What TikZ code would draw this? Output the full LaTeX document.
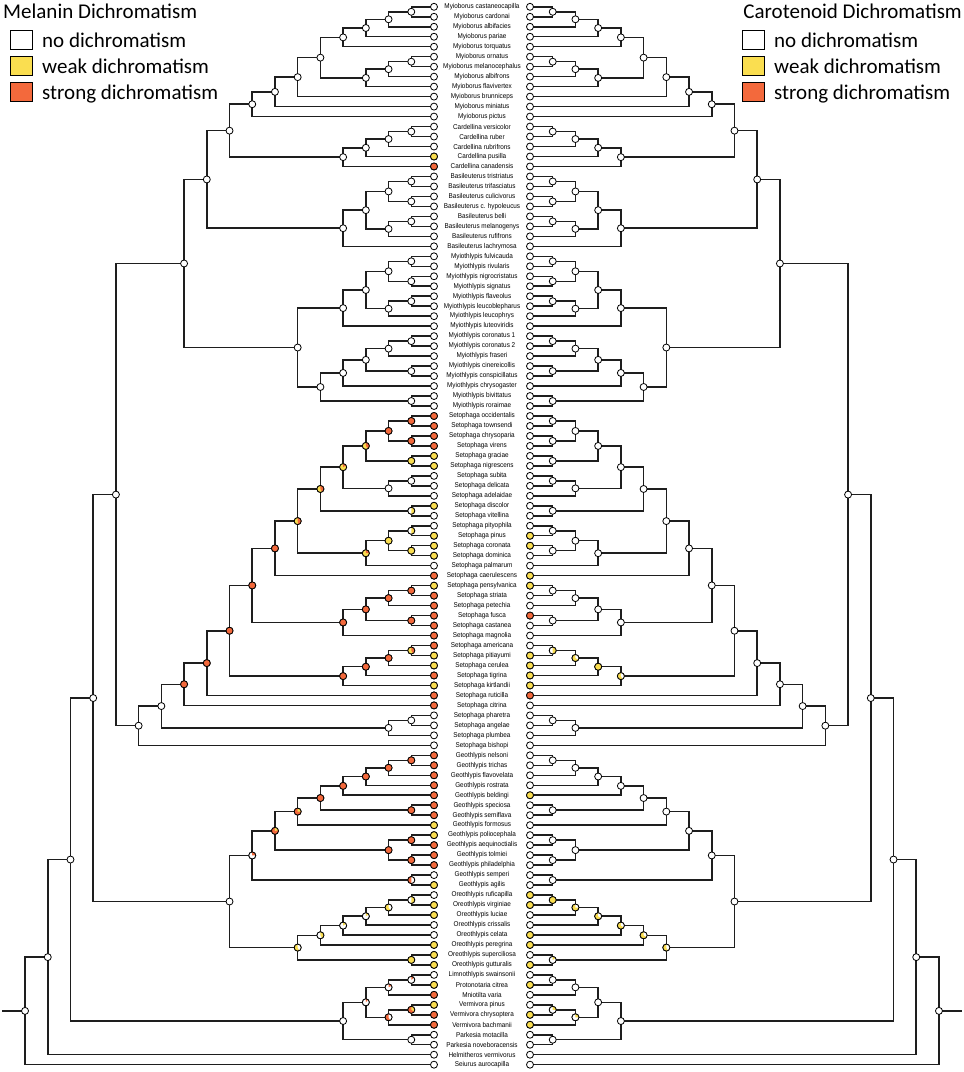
\documentclass[tikz,border=0pt]{standalone}
\usepackage{fontspec}
\setmainfont{Liberation Sans}
\newfontfamily\legfont{Carlito}
\newfontfamily\tipfont[FakeStretch=0.91]{Liberation Sans}
\usetikzlibrary{calc,positioning}

\definecolor{weak}{RGB}{250,222,80}
\definecolor{strong}{RGB}{243,105,60}
\definecolor{branchc}{RGB}{30,30,30}

\pgfdeclarelayer{edges}
\pgfsetlayers{edges,main}

\tikzset{
  branch/.style={draw=branchc, line width=1.5pt},
  bnode/.style={circle, draw=black, line width=0.8pt, fill=white, inner sep=0pt, minimum size=7pt},
  tiplab/.style={font=\tipfont\fontsize{7}{8}\selectfont, inner sep=0pt},
  legbox/.style={draw=black, line width=0.8pt, minimum width=22pt, minimum height=19pt, inner sep=0pt},
  legtext/.style={font=\legfont\fontsize{21}{24}\selectfont, inner sep=0pt, anchor=base west},
}

% clade: name, level, first child, second child
\newcommand{\clade}[4]{%
  \path ($(\pre#3)!0.5!(\pre#4)$) coordinate (\pre#1-m);
  \pgfmathsetmacro\cladex{482+(\side)*(48+#2*22.72)}
  \coordinate (\pre#1) at (\cladex,0 |- \pre#1-m);
  \begin{pgfonlayer}{edges}
    \draw[branch] (\pre#3) -| (\pre#1) |- (\pre#4);
  \end{pgfonlayer}
  \node[bnode] at (\pre#1) {};
}
\newcommand{\paint}[2]{\node[bnode, fill=#2] at (\pre#1) {};}
% pie: node, base colour, wedge colour, wedge degrees
\newcommand{\pienode}[4]{%
  \fill[#2] (\pre#1) circle (3.5pt);
  \fill[#3] (\pre#1) -- ++(90:3.5pt) arc[start angle=90, end angle={90-#4}, radius=3.5pt] -- cycle;
  \draw[line width=0.8pt] (\pre#1) circle (3.5pt);
}

\newcommand{\buildtree}{%
  \foreach \i in {1,...,107} {
    \coordinate (\pre t\i) at ({482+(\side)*48},{6.8+(\i-1)*9.98});
  }
  % Myioborus
  \clade{a1}{1}{t1}{t2}
  \clade{a2}{2}{a1}{t3}
  \clade{a3}{3}{a2}{t4}
  \clade{a4}{4}{a3}{t5}
  \clade{a5}{1}{t6}{t7}
  \clade{a6}{2}{a5}{t8}
  \clade{a7}{3}{a6}{t9}
  \clade{a8}{5}{a4}{a7}
  \clade{a9}{6}{a8}{t10}
  \clade{a10}{7}{a9}{t11}
  \clade{a11}{8}{a10}{t12}
  % Cardellina
  \clade{c1}{1}{t13}{t14}
  \clade{c2}{2}{c1}{t15}
  \clade{c3}{3}{c2}{t16}
  \clade{c4}{4}{c3}{t17}
  \clade{c5}{9}{a11}{c4}
  % Basileuterus
  \clade{b1}{1}{t18}{t19}
  \clade{b2}{1}{t20}{t21}
  \clade{b3}{2}{b1}{b2}
  \clade{b4}{1}{t22}{t23}
  \clade{b5}{2}{b4}{t24}
  \clade{b6}{3}{b3}{b5}
  \clade{b7}{4}{b6}{t25}
  \clade{b8}{10}{c5}{b7}
  % Myiothlypis
  \clade{m1}{1}{t26}{t27}
  \clade{m2}{1}{t28}{t29}
  \clade{m3}{2}{m1}{m2}
  \clade{m4}{1}{t30}{t31}
  \clade{m5}{2}{m4}{t32}
  \clade{m6}{3}{m3}{m5}
  \clade{m7}{4}{m6}{t33}
  \clade{m8}{1}{t34}{t35}
  \clade{m9}{2}{m8}{t36}
  \clade{m10}{1}{t37}{t38}
  \clade{m11}{3}{m9}{m10}
  \clade{m12}{4}{m11}{t39}
  \clade{m13}{1}{t40}{t41}
  \clade{m14}{5}{m12}{m13}
  \clade{m15}{6}{m7}{m14}
  \clade{m16}{11}{b8}{m15}
  % Setophaga
  \clade{s1}{1}{t42}{t43}
  \clade{s2}{1}{t44}{t45}
  \clade{s3}{2}{s1}{s2}
  \clade{s4}{1}{t46}{t47}
  \clade{s5}{3}{s3}{s4}
  \clade{s6}{1}{t48}{t49}
  \clade{s7}{2}{s6}{t50}
  \clade{s8}{4}{s5}{s7}
  \clade{s9}{1}{t51}{t52}
  \clade{s10}{5}{s8}{s9}
  \clade{s11}{1}{t53}{t54}
  \clade{s12}{1}{t55}{t56}
  \clade{s13}{2}{s11}{s12}
  \clade{s14}{3}{s13}{t57}
  \clade{s15}{6}{s10}{s14}
  \clade{s16}{7}{s15}{t58}
  \clade{s17}{1}{t59}{t60}
  \clade{s18}{2}{s17}{t61}
  \clade{s19}{1}{t62}{t63}
  \clade{s20}{3}{s18}{s19}
  \clade{s21}{4}{s20}{t64}
  \clade{s22}{8}{s16}{s21}
  \clade{s23}{1}{t65}{t66}
  \clade{s24}{2}{s23}{t67}
  \clade{s25}{3}{s24}{t68}
  \clade{s26}{4}{s25}{t69}
  \clade{s27}{9}{s22}{s26}
  \clade{s28}{10}{s27}{t70}
  \clade{s29}{11}{s28}{t71}
  \clade{s30}{1}{t72}{t73}
  \clade{s31}{2}{s30}{t74}
  \clade{s32}{12}{s29}{s31}
  \clade{s33}{13}{s32}{t75}
  \clade{r1}{14}{m16}{s33}
  % Geothlypis
  \clade{g1}{1}{t76}{t77}
  \clade{g2}{2}{g1}{t78}
  \clade{g3}{3}{g2}{t79}
  \clade{g4}{4}{g3}{t80}
  \clade{g5}{1}{t81}{t82}
  \clade{g6}{5}{g4}{g5}
  \clade{g7}{6}{g6}{t83}
  \clade{g8}{1}{t84}{t85}
  \clade{g9}{1}{t86}{t87}
  \clade{g10}{2}{g8}{g9}
  \clade{g11}{7}{g7}{g10}
  \clade{g12}{1}{t88}{t89}
  \clade{g13}{8}{g11}{g12}
  % Oreothlypis
  \clade{o1}{1}{t90}{t91}
  \clade{o2}{2}{o1}{t92}
  \clade{o3}{3}{o2}{t93}
  \clade{o4}{4}{o3}{t94}
  \clade{o5}{5}{o4}{t95}
  \clade{o6}{1}{t96}{t97}
  \clade{o7}{6}{o5}{o6}
  \clade{o8}{9}{g13}{o7}
  \clade{r2}{15}{r1}{o8}
  % Vermivora and the rest
  \clade{v1}{1}{t98}{t99}
  \clade{v2}{2}{v1}{t100}
  \clade{v3}{1}{t101}{t102}
  \clade{v4}{2}{v3}{t103}
  \clade{v5}{3}{v2}{v4}
  \clade{v6}{1}{t104}{t105}
  \clade{v7}{4}{v5}{v6}
  \clade{r3}{16}{r2}{v7}
  \clade{r4}{17}{r3}{t106}
  \clade{r5}{18}{r4}{t107}
  % Root
  \coordinate (\pre stem) at ({482+(\side)*480},0 |- \pre r5);
  \begin{pgfonlayer}{edges}
    \draw[branch] (\pre r5) -- (\pre stem);
  \end{pgfonlayer}
  % Tips
  \foreach \i in {1,...,107} {
    \node[bnode] at (\pre t\i) {};
  }
}

\begin{document}
\begin{tikzpicture}[x=1pt, y=-1pt]
  \useasboundingbox (0,0) rectangle (964,1072);

  % Melanin side
  \begin{scope}
    \def\pre{L}\def\side{-1}
    \buildtree
    \foreach \k in {16,46,47,51,54,55,56,59,66,67,69,83,84,89,91,92,95,96,97,99,101} {
      \paint{t\k}{weak}
    }
    \foreach \k in {17,42,43,44,45,58,60,61,62,63,64,65,68,70,71,76,77,78,79,80,81,82,85,86,87,100,102,103} {
      \paint{t\k}{strong}
    }
    \foreach \k in {s1,s2,s3,s16,s17,s18,s19,s20,s21,s22,s24,s25,s26,s27,s28,s29,g1,g2,g3,g4,g5,g6,g8,g9,g10} {
      \paint{\k}{strong}
    }
    \foreach \k in {s4,s12,s13,o6} {
      \paint{\k}{weak}
    }
    \pienode{s5}{weak}{strong}{140}
    \pienode{s8}{weak}{strong}{60}
    \pienode{s9}{white}{weak}{180}
    \pienode{s10}{weak}{strong}{150}
    \pienode{s11}{white}{weak}{180}
    \pienode{s14}{weak}{strong}{90}
    \pienode{s15}{weak}{strong}{170}
    \pienode{s23}{weak}{strong}{150}
    \pienode{g7}{strong}{weak}{90}
    \pienode{g11}{strong}{weak}{80}
    \pienode{g12}{strong}{white}{180}
    \pienode{g13}{white}{strong}{90}
    \pienode{o1}{white}{weak}{180}
    \pienode{o2}{weak}{white}{140}
    \pienode{o3}{white}{weak}{60}
    \pienode{o4}{white}{weak}{60}
    \pienode{o5}{white}{weak}{150}
    \pienode{o7}{weak}{white}{150}
    \pienode{v1}{white}{strong}{50}
    \pienode{v2}{white}{strong}{60}
    \pienode{v3}{strong}{weak}{120}
    \pienode{v4}{strong}{white}{150}
    \pienode{v5}{white}{strong}{40}
  \end{scope}

  % Carotenoid side
  \begin{scope}
    \def\pre{R}\def\side{1}
    \buildtree
    \foreach \k in {54,55,58,59,66,67,68,69,80,90,91,94,95,97,99,102,103} {
      \paint{t\k}{weak}
    }
    \foreach \k in {62,70} {
      \paint{t\k}{strong}
    }
    \paint{s25}{weak}
    \paint{o1}{weak}
    \pienode{s23}{white}{weak}{180}
    \pienode{s24}{weak}{white}{120}
    \pienode{s26}{weak}{white}{150}
    \pienode{o2}{weak}{white}{90}
    \pienode{o3}{weak}{white}{120}
    \pienode{o4}{weak}{white}{120}
    \pienode{o5}{weak}{white}{120}
    \pienode{o7}{weak}{white}{150}
    \pienode{o6}{white}{weak}{60}
    \pienode{v3}{white}{weak}{90}
    \pienode{v4}{white}{weak}{90}
  \end{scope}

  % Species names
  \foreach \nm [count=\i] in {Myioborus castaneocapilla, Myioborus cardonai, Myioborus albifacies,
      Myioborus pariae, Myioborus torquatus, Myioborus ornatus, Myioborus melanocephalus,
      Myioborus albifrons, Myioborus flavivertex, Myioborus brunniceps, Myioborus miniatus,
      Myioborus pictus, Cardellina versicolor, Cardellina ruber, Cardellina rubrifrons,
      Cardellina pusilla, Cardellina canadensis, Basileuterus tristriatus, Basileuterus trifasciatus,
      Basileuterus culicivorus, Basileuterus c. hypoleucus, Basileuterus belli,
      Basileuterus melanogenys, Basileuterus rufifrons, Basileuterus lachrymosa,
      Myiothlypis fulvicauda, Myiothlypis rivularis, Myiothlypis nigrocristatus,
      Myiothlypis signatus, Myiothlypis flaveolus, Myiothlypis leucoblepharus,
      Myiothlypis leucophrys, Myiothlypis luteoviridis, Myiothlypis coronatus 1,
      Myiothlypis coronatus 2, Myiothlypis fraseri, Myiothlypis cinereicollis,
      Myiothlypis conspicillatus, Myiothlypis chrysogaster, Myiothlypis bivittatus,
      Myiothlypis roraimae, Setophaga occidentalis, Setophaga townsendi, Setophaga chrysoparia,
      Setophaga virens, Setophaga graciae, Setophaga nigrescens, Setophaga subita,
      Setophaga delicata, Setophaga adelaidae, Setophaga discolor, Setophaga vitellina,
      Setophaga pityophila, Setophaga pinus, Setophaga coronata, Setophaga dominica,
      Setophaga palmarum, Setophaga caerulescens, Setophaga pensylvanica, Setophaga striata,
      Setophaga petechia, Setophaga fusca, Setophaga castanea, Setophaga magnolia,
      Setophaga americana, Setophaga pitiayumi, Setophaga cerulea, Setophaga tigrina,
      Setophaga kirtlandii, Setophaga ruticilla, Setophaga citrina, Setophaga pharetra,
      Setophaga angelae, Setophaga plumbea, Setophaga bishopi, Geothlypis nelsoni,
      Geothlypis trichas, Geothlypis flavovelata, Geothlypis rostrata, Geothlypis beldingi,
      Geothlypis speciosa, Geothlypis semiflava, Geothlypis formosus, Geothlypis poliocephala,
      Geothlypis aequinoctialis, Geothlypis tolmiei, Geothlypis philadelphia, Geothlypis semperi,
      Geothlypis agilis, Oreothlypis ruficapilla, Oreothlypis virginiae, Oreothlypis luciae,
      Oreothlypis crissalis, Oreothlypis celata, Oreothlypis peregrina, Oreothlypis superciliosa,
      Oreothlypis gutturalis, Limnothlypis swainsonii, Protonotaria citrea, Mniotilta varia,
      Vermivora pinus, Vermivora chrysoptera, Vermivora bachmanii, Parkesia motacilla,
      Parkesia noveboracensis, Helmitheros vermivorus, Seiurus aurocapilla} {
    \node[tiplab] (lab\i) at (482,{6.8+(\i-1)*9.98}) {\nm};
  }

  % Legend, melanin
  \node[legtext] (mtitle) at (3,18) {Melanin Dichromatism};
  \node[legbox, fill=white] (mno) at (21,40) {};
  \node[legbox, fill=weak] (mweak) at (21,66) {};
  \node[legbox, fill=strong] (mstrong) at (21,92) {};
  \node[legtext] (mnotext) at (42,47) {no dichromatism};
  \node[legtext] (mweaktext) at (42,73) {weak dichromatism};
  \node[legtext] (mstrongtext) at (42,99) {strong dichromatism};

  % Legend, carotenoid
  \node[legtext, anchor=base east] (ctitle) at (962,18) {Carotenoid Dichromatism};
  \node[legbox, fill=white] (cno) at (753,40) {};
  \node[legbox, fill=weak] (cweak) at (753,66) {};
  \node[legbox, fill=strong] (cstrong) at (753,92) {};
  \node[legtext] (cnotext) at (774,47) {no dichromatism};
  \node[legtext] (cweaktext) at (774,73) {weak dichromatism};
  \node[legtext] (cstrongtext) at (774,99) {strong dichromatism};
\end{tikzpicture}
\end{document}
